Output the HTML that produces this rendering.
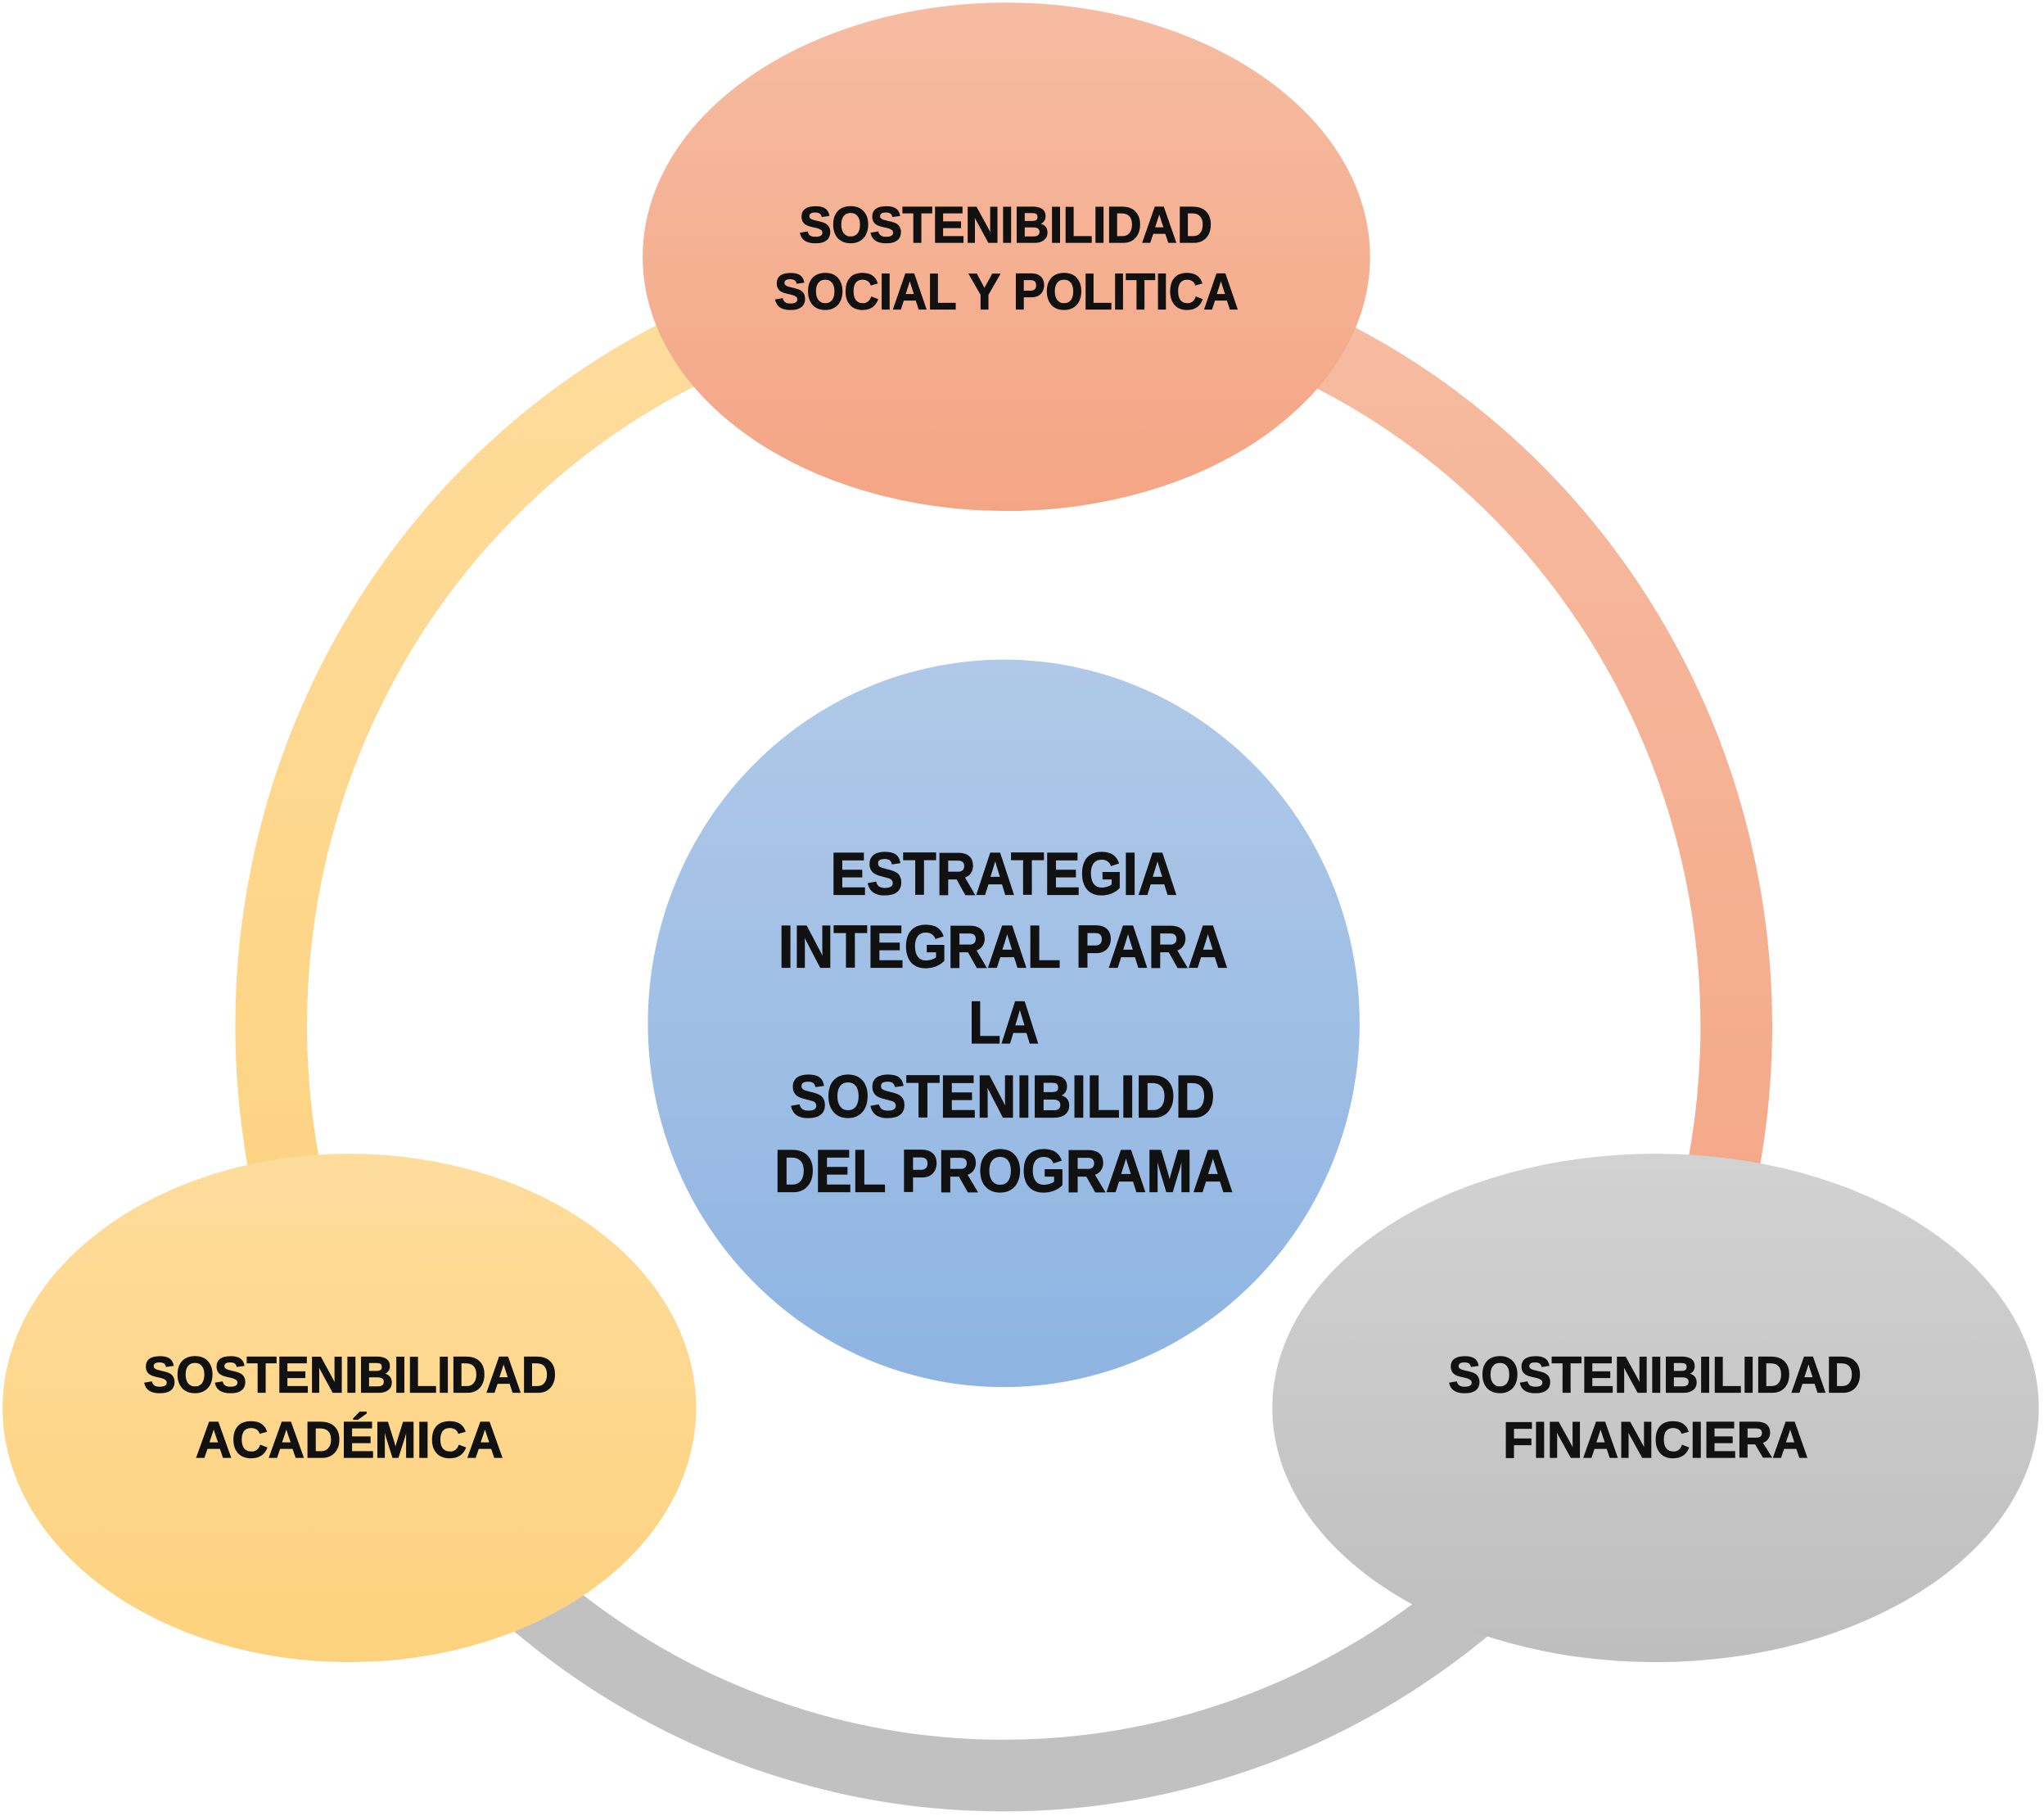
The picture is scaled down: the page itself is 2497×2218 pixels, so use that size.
<!DOCTYPE html>
<html><head><meta charset="utf-8"><style>html,body{margin:0;padding:0;background:#fff}svg{display:block}</style></head><body>
<svg width="2497" height="2218" viewBox="0 0 1568 1393" preserveAspectRatio="none" xmlns="http://www.w3.org/2000/svg">
<defs>
<linearGradient id="gO" x1="0" y1="0" x2="0" y2="1"><stop offset="0" stop-color="#F6BCA2"/><stop offset="1" stop-color="#F4A584"/></linearGradient>
<linearGradient id="gY" x1="0" y1="0" x2="0" y2="1"><stop offset="0" stop-color="#FEDC9C"/><stop offset="1" stop-color="#FDD27E"/></linearGradient>
<linearGradient id="gG" x1="0" y1="0" x2="0" y2="1"><stop offset="0" stop-color="#D2D2D2"/><stop offset="1" stop-color="#BEBEBE"/></linearGradient>
<linearGradient id="gB" x1="0" y1="0" x2="0" y2="1"><stop offset="0" stop-color="#B0C9E8"/><stop offset="1" stop-color="#8EB4E2"/></linearGradient>
<linearGradient id="rO" gradientUnits="userSpaceOnUse" x1="0" y1="212" x2="0" y2="1075"><stop offset="0" stop-color="#F6BCA2"/><stop offset="1" stop-color="#F4A584"/></linearGradient>
<linearGradient id="rY" gradientUnits="userSpaceOnUse" x1="0" y1="212" x2="0" y2="1075"><stop offset="0" stop-color="#FEDC9C"/><stop offset="1" stop-color="#FDD27E"/></linearGradient>
</defs>
<g fill="none" stroke-width="55">
<path d="M770 212 A562 575 0 0 1 1256.7 1074.5" stroke="url(#rO)"/>
<path d="M1256.7 1074.5 A562 575 0 0 1 283.3 1074.5" stroke="#C1C1C1"/>
<path d="M283.3 1074.5 A562 575 0 0 1 770 212" stroke="url(#rY)"/>
</g>
<ellipse cx="772" cy="197" rx="279" ry="195" fill="url(#gO)"/>
<ellipse cx="268" cy="1080" rx="266" ry="195" fill="url(#gY)"/>
<ellipse cx="1270" cy="1080" rx="294" ry="195" fill="url(#gG)"/>
<ellipse cx="770" cy="785" rx="273" ry="279" fill="url(#gB)"/>
<g font-family="'Liberation Sans', sans-serif" font-weight="bold" fill="#111" stroke="#111" stroke-width="0.8">
<g font-size="39">
<text x="613" y="186" textLength="317" lengthAdjust="spacingAndGlyphs">SOSTENIBILIDAD</text>
<text x="594" y="237" textLength="356" lengthAdjust="spacingAndGlyphs">SOCIAL Y POLITICA</text>
<text x="110" y="1068" textLength="317" lengthAdjust="spacingAndGlyphs">SOSTENIBILIDAD</text>
<text x="150" y="1118" textLength="236" lengthAdjust="spacingAndGlyphs">ACADÉMICA</text>
<text x="1111" y="1068" textLength="317" lengthAdjust="spacingAndGlyphs">SOSTENIBILIDAD</text>
<text x="1153" y="1118" textLength="234" lengthAdjust="spacingAndGlyphs">FINANCIERA</text>
</g>
<g font-size="46">
<text x="637" y="686" textLength="266" lengthAdjust="spacingAndGlyphs">ESTRATEGIA</text>
<text x="597" y="742" textLength="345" lengthAdjust="spacingAndGlyphs">INTEGRAL PARA</text>
<text x="743" y="800" textLength="54" lengthAdjust="spacingAndGlyphs">LA</text>
<text x="606" y="857" textLength="326" lengthAdjust="spacingAndGlyphs">SOSTENIBILIDD</text>
<text x="594" y="914" textLength="352" lengthAdjust="spacingAndGlyphs">DEL PROGRAMA</text>
</g>
</g>
</svg>
</body></html>
